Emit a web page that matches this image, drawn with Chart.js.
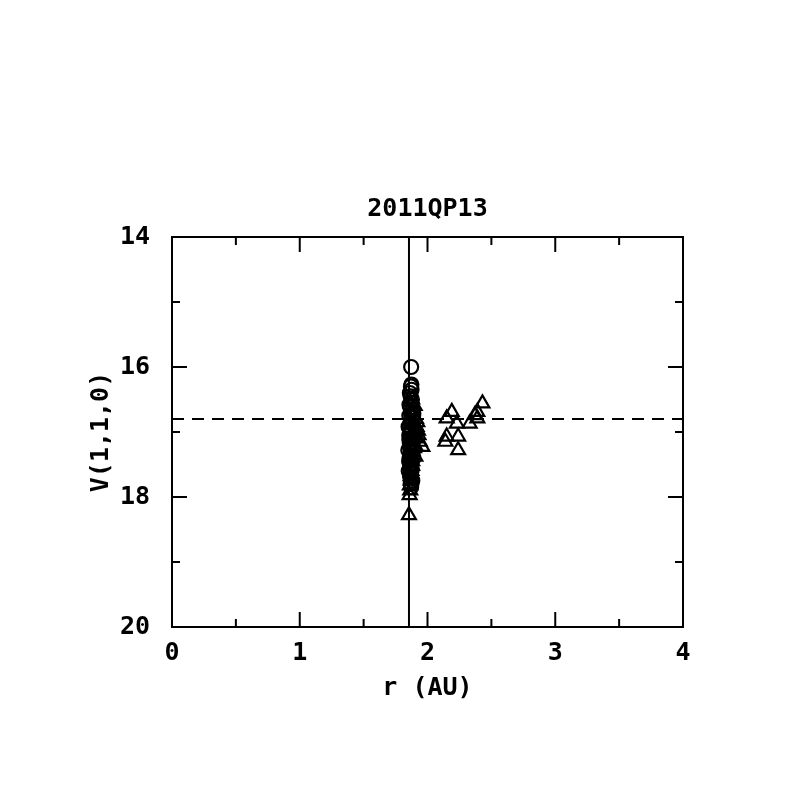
<!DOCTYPE html>
<html>
<head>
<meta charset="utf-8">
<script src="https://cdn.jsdelivr.net/npm/chart.js@4.4.0/dist/chart.umd.min.js"></script>
<style>
  html, body { margin: 0; padding: 0; background: #fff; }
  #wrap { width: 797px; height: 797px; }
</style>
</head>
<body>
<div id="wrap"><canvas id="c" width="797" height="797"></canvas></div>
<script>
// circles (near-sun observations)
const circleR = [1.872, 1.870, 1.875, 1.868, 1.872, 1.865, 1.870, 1.875, 1.868, 1.860, 1.872, 1.866, 1.870, 1.862, 1.875, 1.868, 1.860, 1.872, 1.866, 1.870, 1.874, 1.868, 1.872, 1.864, 1.878, 1.862,
                 1.880, 1.858, 1.882, 1.857, 1.879, 1.861, 1.883, 1.856, 1.877, 1.863, 1.881, 1.859, 1.876, 1.885, 1.858, 1.874,
                 1.852, 1.888, 1.850, 1.886, 1.853, 1.889];
const circleV = [16.00, 16.30, 16.35, 16.45, 16.55, 16.62, 16.70, 16.78, 16.85, 16.90, 16.95, 17.02, 17.10, 17.18, 17.25, 17.32, 17.40, 17.48, 17.55, 17.62, 17.70, 17.80, 17.85, 17.50, 16.50, 16.40,
                 16.65, 16.75, 16.88, 17.05, 17.15, 17.22, 17.38, 17.45, 17.58, 17.68, 17.75, 16.58, 16.98, 17.30, 17.12, 16.27,
                 16.92, 17.08, 17.28, 17.42, 17.60, 16.72];

// triangles
const triR = [1.855, 1.860, 1.865, 1.870, 1.875, 1.880, 1.885, 1.900, 1.960, 1.930, 1.900, 1.920, 1.890, 1.900, 1.880, 1.910, 1.870, 1.895, 1.940,
              1.862, 1.868, 1.880, 1.905, 1.915, 1.885, 1.875, 1.895, 1.910, 1.925, 1.872,
              2.19, 2.15, 2.23, 2.15, 2.14, 2.24, 2.24, 2.33, 2.37, 2.39, 2.43, 2.39];
const triV = [18.28, 17.97, 17.90, 17.75, 17.60, 17.45, 17.30, 17.20, 17.23, 17.05, 16.95, 16.85, 16.75, 16.60, 16.50, 17.10, 17.35, 17.00, 17.15,
              17.82, 17.68, 17.52, 17.38, 16.92, 16.68, 17.12, 17.25, 16.80, 16.98, 17.45,
              16.69, 16.79, 16.87, 17.07, 17.15, 17.07, 17.28, 16.87, 16.74, 16.69, 16.56, 16.79];

// reference lines
const vertLineR = 1.855;
const meanV = 16.8;

const xMajor = [0, 1, 2, 3, 4];
const yMajor = [14, 16, 18, 20];
const titleText = '2011QP13';

const font = "'DejaVu Sans Mono', monospace";
const fsize = 25;

const pts = (xs, ys) => xs.map((x, i) => ({ x: x, y: ys[i] }));

// inward ticks, frame and title, like the original plot
const frameTicks = {
  id: 'frameTicks',
  afterDatasetsDraw(chart) {
    const ctx = chart.ctx;
    const a = chart.chartArea;
    const xs = chart.scales.x, ys = chart.scales.y;
    ctx.save();
    ctx.strokeStyle = '#000';
    ctx.lineWidth = 2;
    ctx.strokeRect(a.left, a.top, a.right - a.left, a.bottom - a.top);
    ctx.beginPath();
    for (let v = 0; v <= 4.001; v += 0.5) {
      const px = xs.getPixelForValue(v);
      const len = Math.abs(v - Math.round(v)) < 0.01 ? 15 : 8;
      ctx.moveTo(px, a.bottom); ctx.lineTo(px, a.bottom - len);
      ctx.moveTo(px, a.top); ctx.lineTo(px, a.top + len);
    }
    for (let v = 14; v <= 20.001; v += 1) {
      const py = ys.getPixelForValue(v);
      const len = v % 2 === 0 ? 15 : 8;
      ctx.moveTo(a.left, py); ctx.lineTo(a.left + len, py);
      ctx.moveTo(a.right, py); ctx.lineTo(a.right - len, py);
    }
    ctx.stroke();
    ctx.fillStyle = '#000';
    ctx.font = 'bold ' + fsize + 'px ' + font;
    ctx.textAlign = 'center';
    ctx.textBaseline = 'middle';
    ctx.fillText(titleText, (a.left + a.right) / 2, a.top - 28);
    ctx.restore();
  }
};

new Chart(document.getElementById('c'), {
  type: 'scatter',
  data: {
    datasets: [
      {
        data: pts(circleR, circleV),
        pointStyle: 'circle',
        pointRadius: 7,
        pointBorderWidth: 2.2,
        borderColor: '#000',
        backgroundColor: 'rgba(0,0,0,0)'
      },
      {
        data: pts(triR, triV),
        pointStyle: 'triangle',
        pointRadius: 8,
        pointBorderWidth: 2.2,
        borderColor: '#000',
        backgroundColor: 'rgba(0,0,0,0)'
      },
      {
        type: 'line',
        data: [{ x: vertLineR, y: 14 }, { x: vertLineR, y: 20 }],
        borderColor: '#000',
        borderWidth: 2,
        pointRadius: 0
      },
      {
        type: 'line',
        data: [{ x: 0, y: meanV }, { x: 4, y: meanV }],
        borderColor: '#000',
        borderWidth: 2,
        borderDash: [12, 8],
        pointRadius: 0
      }
    ]
  },
  options: {
    responsive: false,
    animation: false,
    layout: { padding: { left: 82, right: 114, top: 237, bottom: 90 } },
    plugins: {
      legend: { display: false },
      tooltip: { enabled: false },
      title: { display: false }
    },
    scales: {
      x: {
        type: 'linear',
        min: 0, max: 4,
        grid: { display: false },
        border: { display: false },
        afterBuildTicks: s => { s.ticks = xMajor.map(v => ({ value: v })); },
        afterFit: s => { s.height = 80; },
        ticks: { color: '#000', font: { family: font, size: fsize, weight: 'bold' }, padding: 3 },
        title: { display: true, text: 'r (AU)', color: '#000', font: { family: font, size: fsize, weight: 'bold' }, padding: { top: 3 } }
      },
      y: {
        type: 'linear',
        reverse: true,
        min: 14, max: 20,
        grid: { display: false },
        border: { display: false },
        afterBuildTicks: s => { s.ticks = yMajor.map(v => ({ value: v })); },
        afterFit: s => { s.width = 90; },
        ticks: { color: '#000', font: { family: font, size: fsize, weight: 'bold' }, padding: 14 },
        title: { display: true, text: 'V(1,1,0)', color: '#000', font: { family: font, size: fsize, weight: 'bold' }, padding: { bottom: 2 } }
      }
    }
  },
  plugins: [frameTicks]
});
</script>
</body>
</html>
